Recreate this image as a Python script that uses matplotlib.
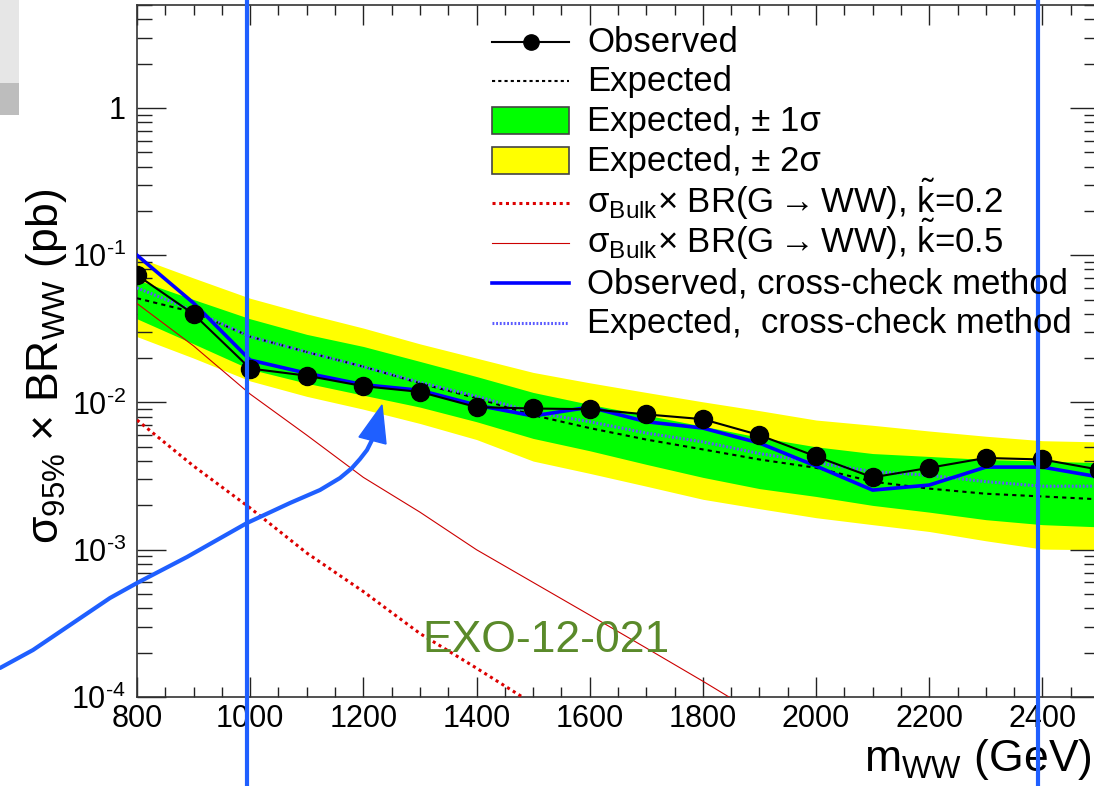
import numpy as np
import matplotlib
matplotlib.use("Agg")
import matplotlib.pyplot as plt
from matplotlib.lines import Line2D
from matplotlib.patches import Rectangle, Polygon, PathPatch
from matplotlib.path import Path
from matplotlib.ticker import MultipleLocator, LogLocator, FuncFormatter, NullFormatter

plt.rcParams['font.family'] = ['Liberation Sans', 'DejaVu Sans']
plt.rcParams['mathtext.fontset'] = 'custom'
plt.rcParams['mathtext.rm'] = 'Liberation Sans'
plt.rcParams['mathtext.it'] = 'Liberation Sans:italic'
plt.rcParams['mathtext.bf'] = 'Liberation Sans:bold'
plt.rcParams['mathtext.fallback'] = 'stixsans'

# resonance masses (GeV) and 95% CL limits (pb)
mass = [800, 900, 1000, 1100, 1200, 1300, 1400, 1500, 1600,
        1700, 1800, 1900, 2000, 2100, 2200, 2300, 2400, 2500]
observed = [0.0733, 0.0398, 0.0170, 0.0152, 0.0129, 0.0118, 0.0093, 0.0091, 0.0090,
            0.0083, 0.0077, 0.0060, 0.0043, 0.0031, 0.0036, 0.0042, 0.0041, 0.0035]
expected = [0.051, 0.041, 0.028, 0.022, 0.0175, 0.0135, 0.0107, 0.0082, 0.0067,
            0.0056, 0.0048, 0.0041, 0.0036, 0.0029, 0.0026, 0.0024, 0.0023, 0.0022]
band1_lo = [0.037, 0.025, 0.0168, 0.0135, 0.0112, 0.0093, 0.0074, 0.0057, 0.0047,
            0.0038, 0.0031, 0.0026, 0.0023, 0.0020, 0.0018, 0.0016, 0.00148, 0.00143]
band1_hi = [0.068, 0.050, 0.037, 0.029, 0.024, 0.019, 0.015, 0.0117, 0.0097,
            0.0082, 0.0069, 0.0058, 0.0050, 0.0045, 0.0043, 0.0041, 0.0040, 0.0039]
band2_lo = [0.028, 0.020, 0.0140, 0.0110, 0.0090, 0.0072, 0.0056, 0.0040, 0.0033,
            0.0027, 0.0022, 0.0019, 0.00165, 0.00148, 0.00133, 0.00115, 0.00101, 0.00100]
band2_hi = [0.097, 0.070, 0.051, 0.040, 0.032, 0.025, 0.020, 0.0160, 0.0136,
            0.0117, 0.0101, 0.0088, 0.0076, 0.0070, 0.0064, 0.0059, 0.0055, 0.0054]
observed_xc = [0.100, 0.0473, 0.0194, 0.0158, 0.0132, 0.0121, 0.0096, 0.0081, 0.0093,
               0.0074, 0.0067, 0.0053, 0.0037, 0.00254, 0.00275, 0.00364, 0.00364, 0.00312]
expected_xc = [0.060, 0.042, 0.028, 0.022, 0.0175, 0.0137, 0.0110, 0.0086, 0.0074,
               0.0062, 0.0054, 0.0045, 0.0039, 0.0034, 0.0032, 0.0029, 0.0027, 0.0027]

# bulk graviton cross sections
mass_k02 = [800, 900, 1000, 1100, 1200, 1300, 1400, 1500]
xsec_k02 = [0.0076, 0.0037, 0.00192, 0.00095, 0.00052, 0.00027, 0.000157, 0.000090]
mass_k05 = [800, 900, 1000, 1100, 1200, 1300, 1400, 1500, 1600, 1700, 1800, 1900]
xsec_k05 = [0.047, 0.0242, 0.0114, 0.0060, 0.0031, 0.0018, 0.00100, 0.00060,
            0.00036, 0.000215, 0.000128, 0.000075]

marked_masses = [995, 2393]

W, H = 1094, 786
fig = plt.figure(figsize=(W / 100, H / 100), dpi=100)
ax = fig.add_axes([137 / W, 89 / H, 962 / W, 692 / H])


def fx(px):
    return px / W


def fy(py):
    return 1 - py / H


ax.fill_between(mass, band2_lo, band2_hi, color='#ffff00', lw=0, zorder=1)
ax.fill_between(mass, band1_lo, band1_hi, color='#00ff00', lw=0, zorder=2)
ax.plot(mass, expected, color='black', lw=1.5, dashes=(2, 2), zorder=3)
ax.plot(mass, expected_xc, color='#5a5aff', lw=2.2, dashes=(0.6, 0.6), zorder=3)
ax.plot(mass_k02, xsec_k02, color='#dd0000', lw=2.2, dashes=(1, 1.2), zorder=3)
ax.plot(mass_k05, xsec_k05, color='#cc0000', lw=0.8, zorder=3)
ax.plot(mass, observed_xc, color='#0000ff', lw=2.6, zorder=4)
ax.plot(mass, observed, color='black', lw=1.5, marker='o', ms=13, zorder=5)

ax.set_yscale('log')
ax.set_xlim(800, 2500)
ax.set_ylim(1e-4, 5)

ax.xaxis.set_major_locator(MultipleLocator(200))
ax.xaxis.set_minor_locator(MultipleLocator(50))
ax.yaxis.set_major_locator(LogLocator(base=10, numticks=10))
ax.yaxis.set_minor_locator(LogLocator(base=10, subs=np.arange(2, 10), numticks=20))
ax.yaxis.set_minor_formatter(NullFormatter())


def ylab(v, pos):
    e = int(round(np.log10(v)))
    return '1' if e == 0 else r'10$^{\text{-}%d}$' % -e


ax.yaxis.set_major_formatter(FuncFormatter(ylab))
ax.xaxis.set_major_formatter(FuncFormatter(lambda v, p: '%d' % v if v < 2500 else ''))

ax.tick_params(which='both', direction='in', top=True, right=True, colors='#222222',
               width=1.0, labelsize=22, labelcolor='black')
ax.tick_params(axis='x', which='major', length=14.5, pad=5)
ax.tick_params(axis='x', which='minor', length=7.2)
ax.tick_params(axis='y', which='major', length=21, pad=8)
ax.tick_params(axis='y', which='minor', length=11)
for s in ax.spines.values():
    s.set_color('#333333')
    s.set_linewidth(1.2)

ax.set_xlabel(r'm$_{\mathrm{WW}}$ (GeV)', fontsize=32, ha='right', va='baseline')
ax.xaxis.set_label_coords((1092 - 137) / 962, (697 - 771) / 692)
ax.set_ylabel(r'σ$_{95\%}$ × BR$_{\mathrm{WW}}$ (pb)', fontsize=32, ha='center', va='center')
ax.yaxis.set_label_coords((47 - 137) / 962, (697 - 366) / 692)

# legend, drawn row by row
lx0, lx1, tx = 492, 569, 587
rows = [42, 81, 121, 161, 203, 243, 283, 323]
labels = ['Observed', 'Expected', 'Expected, ± 1σ', 'Expected, ± 2σ',
          r'σ$_{\mathrm{Bulk}}$× BR(G${\rightarrow}$WW), $\tilde{\mathrm{k}}$=0.2',
          r'σ$_{\mathrm{Bulk}}$× BR(G${\rightarrow}$WW), $\tilde{\mathrm{k}}$=0.5',
          'Observed, cross-check method', 'Expected,  cross-check method']
styles = [dict(color='black', lw=1.5, marker='o', ms=11, markevery=[1]),
          dict(color='black', lw=1.5, dashes=(1.5, 1.5)),
          None, None,
          dict(color='#dd0000', lw=2.2, dashes=(1, 1.2)),
          dict(color='#cc0000', lw=0.8),
          dict(color='#0000ff', lw=2.6),
          dict(color='#5a5aff', lw=2.2, dashes=(0.6, 0.6))]
fills = [None, None, '#00ff00', '#ffff00', None, None, None, None]
for y, lab, st, fc in zip(rows, labels, styles, fills):
    if fc is not None:
        fig.add_artist(Rectangle((fx(lx0), fy(y + 13)), fx(lx1) - fx(lx0), (27 / H),
                                 facecolor=fc, edgecolor='#444444', lw=1.2))
    else:
        fig.add_artist(Line2D([fx(lx0), fx((lx0 + lx1) / 2), fx(lx1)], [fy(y)] * 3, **st))
    fig.text(fx(tx), fy(y + 10), lab, fontsize=25, ha='left', va='baseline')

ax.text(fx(422), fy(640), 'EXO-12-021', transform=fig.transFigure, fontsize=32,
        color='#5a8a2a', ha='left', va='center', zorder=6)

# hand-drawn markers on top of the plot
blue = '#1f5fff'
for m in marked_masses:
    fig.add_artist(Line2D([m, m], [0, 1], color=blue, lw=3,
                          transform=matplotlib.transforms.blended_transform_factory(
                              ax.transData, fig.transFigure)))
arrow_pts = [(0, 668), (33, 650), (110, 598), (137, 583), (187, 557), (247, 523),
             (290, 503), (320, 490), (340, 478), (352, 468), (360, 459), (367, 450),
             (373, 438)]
path = Path([(fx(x), fy(y)) for x, y in arrow_pts])
fig.add_artist(PathPatch(path, fill=False, edgecolor=blue, lw=3, capstyle='round',
                         joinstyle='round', transform=fig.transFigure))
head = [(382, 405), (359, 437), (386, 444)]
fig.add_artist(Polygon([(fx(x), fy(y)) for x, y in head], closed=True,
                       facecolor=blue, edgecolor=blue, transform=fig.transFigure))

# grey strip at the top-left edge
fig.add_artist(Rectangle((0, fy(83)), fx(19), 83 / H, facecolor='#e6e6e6', lw=0))
fig.add_artist(Rectangle((0, fy(115)), fx(19), 32 / H, facecolor='#bdbdbd', lw=0))

fig.savefig('out.png', dpi=100)
